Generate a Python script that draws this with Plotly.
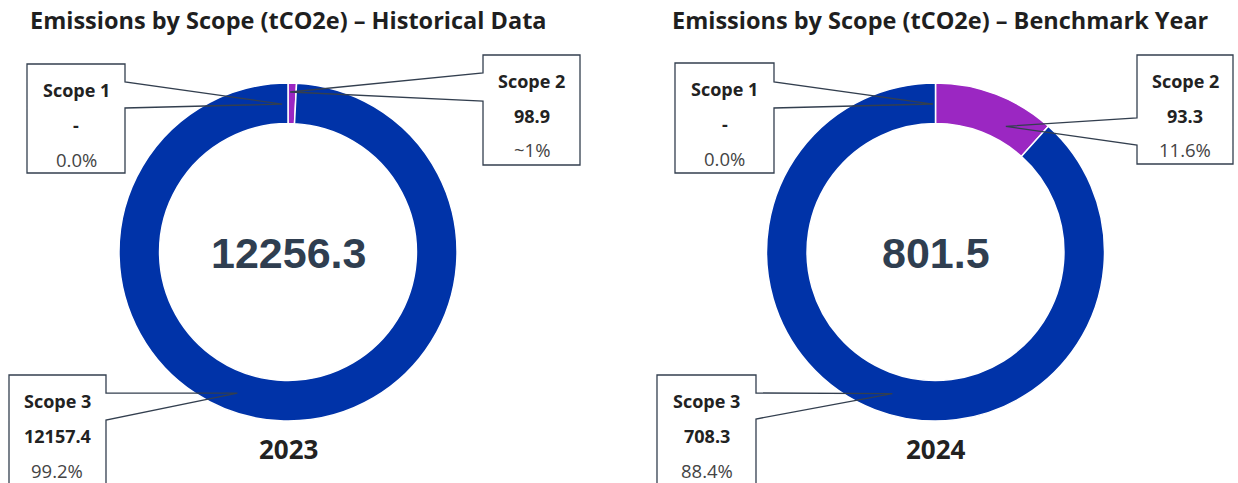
import math
import plotly.graph_objects as go

# ---------------- data ----------------
scopes = ["Scope 1", "Scope 2", "Scope 3"]
hist_values = [0, 98.9, 12157.4]
bench_values = [0, 93.3, 708.3]
hist_value_labels = ["-", "98.9", "12157.4"]
bench_value_labels = ["-", "93.3", "708.3"]
hist_pct_labels = ["0.0%", "~1%", "99.2%"]
bench_pct_labels = ["0.0%", "11.6%", "88.4%"]
totals = ["12256.3", "801.5"]
years = ["2023", "2024"]
titles = ["Emissions by Scope (tCO2e) \u2013 Historical Data",
          "Emissions by Scope (tCO2e) \u2013 Benchmark Year"]
colors = ["#0a2fa6", "#9b27c2", "#0033a8"]

# ---------------- layout constants (pixels) ----------------
W, H = 1238, 483
R_OUT, HOLE = 169, 0.76
CENTERS = [(288, 252), (935.5, 252)]
FONT = "Open Sans"

# callout boxes: (x0, y0, x1, y1, side of notch, notch y0, notch y1, angle offset, tip radius)
callouts = [
    [(27, 64, 125, 173, "right", 82, 108, -2.3, 148),
     (483, 55, 580, 165, "left", 73, 101, -0.7, 160),
     (9, 375, 106, 495, "right", 393, 420, 18.3, 150)],
    [(675, 63, 774, 173, "right", 82, 108, -1.0, 148),
     (1137, 55, 1233, 164, "left", 118, 145, 8.3, 144),
     (657, 375, 756, 495, "right", 393, 419, -4.0, 148)],
]

def px(x):
    return x / W

def py(y):
    return 1 - y / H

fig = go.Figure()
datasets = [(hist_values, hist_value_labels, hist_pct_labels),
            (bench_values, bench_value_labels, bench_pct_labels)]

shapes = []
annotations = []
for i, (vals, vlabels, plabels) in enumerate(datasets):
    cx, cy = CENTERS[i]
    fig.add_trace(go.Pie(
        labels=scopes, values=vals, hole=HOLE, sort=False,
        direction="clockwise", rotation=0,
        marker=dict(colors=colors, line=dict(color="white", width=1.5)),
        textinfo="none", hoverinfo="label+value+percent",
        domain=dict(x=[px(cx - R_OUT), px(cx + R_OUT)],
                    y=[py(cy + R_OUT), py(cy - R_OUT)]),
        showlegend=False,
    ))
    total = sum(vals)
    cum = 0.0
    for j, v in enumerate(vals):
        mid = (cum + v / 2) / total * 360
        cum += v
        x0, y0, x1, y1, side, n0, n1, dth, rt = callouts[i][j]
        ang = math.radians(mid + dth)
        tx = cx + rt * math.sin(ang)
        ty = cy - rt * math.cos(ang)
        if side == "right":
            pts = [(x0, y0), (x1, y0), (x1, n0), (tx, ty), (x1, n1), (x1, y1), (x0, y1)]
        else:
            pts = [(x1, y0), (x1, y1), (x0, y1), (x0, n1), (tx, ty), (x0, n0), (x0, y0)]
        path = "M " + " L ".join(f"{px(a):.5f},{py(b):.5f}" for a, b in pts) + " Z"
        shapes.append(dict(type="path", path=path, xref="paper", yref="paper",
                           line=dict(color="#333f4f", width=1.3),
                           fillcolor="rgba(0,0,0,0)", layer="above"))
        bx = (x0 + x1) / 2
        for k, (txt, bold, col) in enumerate([(scopes[j], True, "#222222"),
                                               (vlabels[j], True, "#222222"),
                                               (plabels[j], False, "#444444")]):
            annotations.append(dict(
                x=px(bx), y=py(y0 + [26, 61, 95][k]), xref="paper", yref="paper",
                text=f"<b>{txt}</b>" if bold else txt, showarrow=False,
                xanchor="center", yanchor="middle",
                font=dict(family=FONT, size=18 if bold else 18.5, color=col)))
    # center total
    annotations.append(dict(x=px(cx), y=py(cy + 1), xref="paper", yref="paper",
                            text=f"<b>{totals[i]}</b>", showarrow=False,
                            xanchor="center", yanchor="middle",
                            font=dict(family="Liberation Sans", size=43, color="#2f3e50")))
    # year
    annotations.append(dict(x=px(cx), y=py(449), xref="paper", yref="paper",
                            text=f"<b>{years[i]}</b>", showarrow=False,
                            xanchor="center", yanchor="middle",
                            font=dict(family=FONT, size=26, color="#222222")))

# titles
annotations.append(dict(x=px(28), y=py(20), xref="paper", yref="paper",
                        text=f"<b>{titles[0]}</b>", showarrow=False,
                        xanchor="left", yanchor="middle",
                        font=dict(family=FONT, size=23.5, color="#1f1f1f")))
annotations.append(dict(x=px(670), y=py(20), xref="paper", yref="paper",
                        text=f"<b>{titles[1]}</b>", showarrow=False,
                        xanchor="left", yanchor="middle",
                        font=dict(family=FONT, size=23.5, color="#1f1f1f")))

fig.update_layout(
    width=W, height=H, margin=dict(l=0, r=0, t=0, b=0),
    paper_bgcolor="white", plot_bgcolor="white",
    shapes=shapes, annotations=annotations,
)
fig.write_html("out.html")
